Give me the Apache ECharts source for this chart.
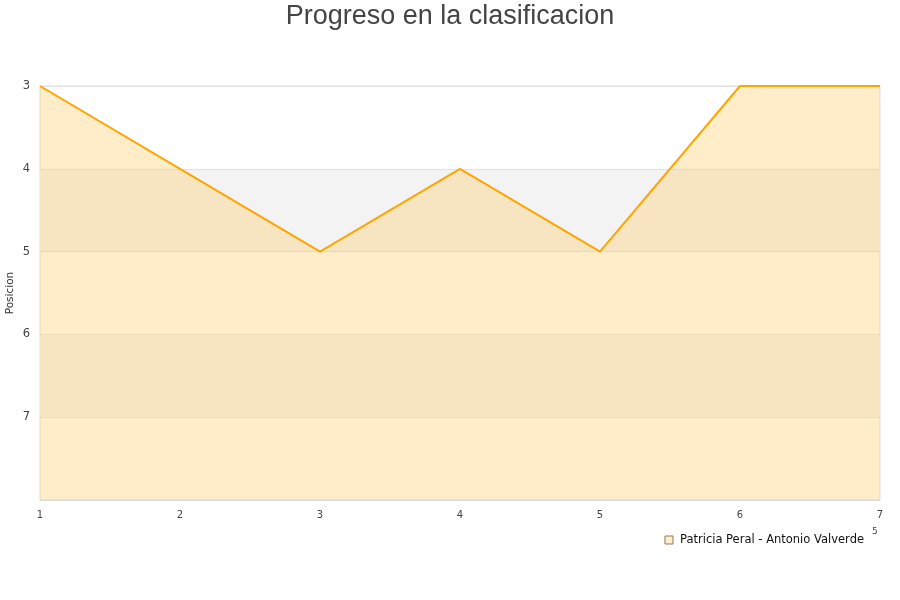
<!DOCTYPE html>
<html><head><meta charset="utf-8">
<script src="https://cdn.jsdelivr.net/npm/echarts@6/dist/echarts.min.js"></script>
<style>html,body{margin:0;padding:0;background:#fff}#c{width:900px;height:600px}</style>
</head><body><div id="c"></div>
<script>
const jornadas = ['1','2','3','4','5','6','7'];
const posiciones = [3,4,5,4,5,3,3];
const yTicks = [3,4,5,6,7,8];
const seriesName = 'Patricia Peral - Antonio Valverde';
const titulo = 'Progreso en la clasificacion';

const chart = echarts.init(document.getElementById('c'));
chart.setOption({
  animation: false,
  title: {text: titulo, left: 'center', top: -2,
    textStyle: {fontFamily: 'Liberation Sans, Arial', fontSize: 27, fontWeight: 'normal', color: '#444'}},
  legend: {right: 31, top: 529, itemWidth: 8, itemHeight: 8, itemGap: 5,
    textStyle: {fontFamily: 'DejaVu Sans', fontSize: 11.5, color: '#111', padding: [0,0,0,2]},
    data: [{name: seriesName, icon: 'rect', itemStyle: {color: '#ffeccb', borderColor: '#8a7a5a', borderWidth: 1}}]},
  grid: {left: 40, right: 20, top: 86, bottom: 100, outerBoundsMode: 'none', containLabel: false,
    show: true, borderColor: '#ddd', borderWidth: 1, backgroundColor: 'transparent'},
  xAxis: {type: 'category', data: jornadas, boundaryGap: false,
    axisLine: {lineStyle: {color: '#ddd'}}, axisTick: {show: false},
    axisLabel: {fontFamily: 'DejaVu Sans', fontSize: 10, color: '#444', margin: 10},
    splitLine: {show: false}},
  yAxis: {type: 'value', inverse: true, min: yTicks[0], max: yTicks[yTicks.length-1], interval: 1,
    name: 'Posicion', nameLocation: 'middle', nameGap: 24, nameRotate: 90, nameMoveOverlap: false,
    nameTextStyle: {fontFamily: 'DejaVu Sans', fontSize: 10.5, color: '#333'},
    axisLine: {show: false}, axisTick: {show: false},
    axisLabel: {fontFamily: 'DejaVu Sans', fontSize: 11.5, color: '#444', margin: 10, showMaxLabel: false},
    splitLine: {show: true, lineStyle: {color: '#e2e2e2'}},
    splitArea: {show: true, areaStyle: {color: ['rgba(255,255,255,0)', '#f3f3f3']}}},
  graphic: [{type: 'text', left: 872, top: 527, style: {text: '5', font: '9px DejaVu Sans', fill: '#444'}}],
  series: [{
    name: seriesName, type: 'line', data: posiciones, symbol: 'none',
    lineStyle: {color: '#ffa500', width: 2},
    itemStyle: {color: '#ffeccb'},
    areaStyle: {origin: 'end', color: 'rgba(255,200,100,0.35)', opacity: 1}
  }]
});
</script></body></html>
